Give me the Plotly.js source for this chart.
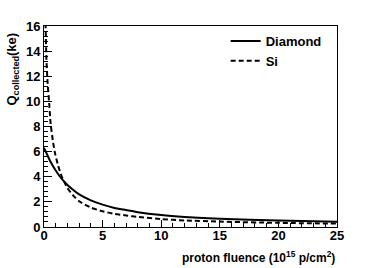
<!DOCTYPE html>
<html>
<head>
<meta charset="utf-8">
<script src="https://cdn.plot.ly/plotly-3.0.1.min.js"></script>
<style>html,body{margin:0;padding:0;background:#fff;}#chart{width:374px;height:268px;}</style>
</head>
<body>
<div id="chart"></div>
<script>
// proton fluence (10^15 p/cm^2)
const diamondFluence = [0, 0.25, 0.5, 1, 1.5, 2, 2.5, 3, 4, 5, 6, 7, 8, 10, 12, 15, 20, 25];
const diamondQ       = [6.3, 5.8, 5.3, 4.5, 3.85, 3.35, 2.95, 2.6, 2.12, 1.78, 1.52, 1.35, 1.18, 0.95, 0.8, 0.66, 0.51, 0.42];
const siFluence = [0.1, 0.15, 0.2, 0.3, 0.43, 0.57, 0.75, 0.91, 1.2, 1.5, 2, 2.5, 3, 4, 5, 6, 7, 8, 10, 12, 15, 20, 25];
const siQ       = [17.5, 15.5, 13.5, 11.6, 10.0, 8.2, 6.9, 6.0, 4.9, 4.05, 3.1, 2.5, 2.05, 1.55, 1.25, 1.05, 0.92, 0.8, 0.63, 0.52, 0.43, 0.33, 0.27];
const seriesNames = ["Diamond", "Si"];
const xTitle = "proton fluence (10<sup>15</sup> p/cm<sup>2</sup>)";
const yTitle = "Q<sub>collected</sub>(ke)";

const font = "Liberation Sans, Arial, sans-serif";
const traces = [
  {x: diamondFluence, y: diamondQ, name: seriesNames[0], mode: "lines",
   line: {color: "#000", width: 2, shape: "spline", smoothing: 0.6}},
  {x: siFluence, y: siQ, name: seriesNames[1], mode: "lines",
   line: {color: "#000", width: 2, dash: "5px,3px", shape: "spline", smoothing: 0.6}}
];
const axisCommon = {
  showgrid: false, zeroline: false, showline: true, linecolor: "#000", linewidth: 1,
  mirror: true, ticks: "inside", tickcolor: "#000", tickwidth: 1,
  tickfont: {family: font, size: 13, color: "#000", weight: "bold"}
};
const layout = {
  width: 374, height: 268,
  margin: {l: 44, r: 37, t: 26, b: 41},
  paper_bgcolor: "#fff", plot_bgcolor: "#fff",
  showlegend: true,
  legend: {x: 0.62, y: 1.0, xanchor: "left", yanchor: "top", bgcolor: "rgba(0,0,0,0)",
           font: {family: font, size: 13, color: "#000", weight: "bold"}, itemwidth: 30, tracegroupgap: 0},
  xaxis: Object.assign({}, axisCommon, {range: [0, 25], dtick: 5, ticklen: 7, ticklabelstandoff: -4,
           minor: {dtick: 1, ticklen: 4, ticks: "inside", tickcolor: "#000", showgrid: false}}),
  yaxis: Object.assign({}, axisCommon, {range: [0, 16], dtick: 2, ticklen: 8,
           minor: {dtick: 0.4, ticklen: 4, ticks: "inside", tickcolor: "#000", showgrid: false}}),
  annotations: [
    {text: xTitle, xref: "paper", yref: "paper", x: 1, y: -0.1, xanchor: "right", yanchor: "top",
     showarrow: false, font: {family: font, size: 12, color: "#000", weight: "bold"}},
    {text: yTitle, xref: "paper", yref: "paper", x: -0.07, y: 0.98, xanchor: "right", yanchor: "top",
     textangle: -90, showarrow: false, font: {family: font, size: 13, color: "#000", weight: "bold"}}
  ]
};
Plotly.newPlot("chart", traces, layout, {displayModeBar: false, staticPlot: true});
</script>
</body>
</html>
